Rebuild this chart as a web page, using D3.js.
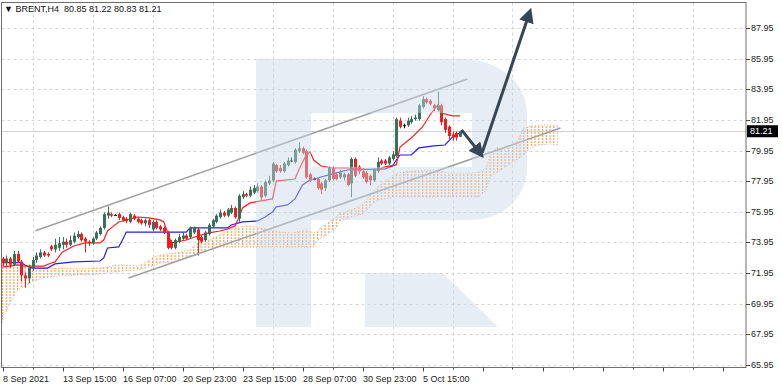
<!DOCTYPE html>
<html>
<head>
<meta charset="utf-8">
<script src="https://cdn.jsdelivr.net/npm/d3@7"></script>
<style>
  html, body { margin: 0; padding: 0; background: #fff; }
  svg { display: block; font-family: "Liberation Sans", Arial, sans-serif; }
</style>
</head>
<body>
<svg id="board" width="782" height="389"></svg>
<script>
// BRENT H4 candles (price units)
const opens  = [72.9,72.6,72.9,72.5,73.2,72.7,71.8,71.6,72.3,72.8,73.0,73.3,73.2,73.7,73.5,73.6,73.8,74.0,73.8,74.0,
                74.3,74.5,74.2,74.0,73.9,74.2,74.5,74.9,75.7,75.8,75.75,75.8,75.6,75.5,75.3,75.7,75.5,75.4,75.2,75.4,
                74.8,75.3,75.0,74.9,74.6,74.0,73.6,74.0,74.2,74.4,74.3,74.6,74.8,74.3,74.1,74.5,75.0,75.3,75.6,75.9,
                75.7,75.9,76.2,75.5,76.9,77.1,77.0,77.2,77.3,77.6,77.0,77.8,78.0,79.0,78.8,78.6,79.0,79.3,79.2,79.9,
                80.1,79.9,78.4,78.1,78.1,77.8,77.5,78.0,78.8,78.4,78.2,78.2,78.4,77.8,79.4,78.9,78.6,78.5,78.3,78.0,
                78.6,79.3,79.3,79.1,79.4,79.6,81.9,81.6,81.6,81.8,82.0,82.0,82.8,83.3,83.2,82.9,82.6,82.9,82.0,81.5,
                81.0,81.1,80.85];
const highs  = [73.0,73.1,73.0,73.4,73.4,72.8,72.0,72.5,73.0,73.3,73.5,73.4,73.3,73.8,74.2,74.3,74.3,74.2,74.4,74.6,
                74.7,74.6,74.3,74.1,74.3,74.7,75.0,75.9,76.3,75.9,75.8,75.9,75.7,75.6,75.9,75.8,75.6,75.5,75.5,75.5,
                75.4,75.4,75.1,75.0,74.7,74.1,74.2,74.5,74.6,74.5,75.0,75.0,74.9,74.4,74.7,75.2,75.5,75.8,76.1,76.0,
                76.2,76.4,76.3,77.1,77.3,77.2,77.6,77.7,77.8,77.7,78.0,78.3,79.2,79.1,79.0,79.2,79.5,79.5,80.1,80.5,
                80.2,80.0,78.5,78.2,78.2,77.9,78.1,78.9,78.9,78.5,78.7,78.5,78.5,79.5,79.5,79.0,78.8,78.6,78.4,78.8,
                79.5,79.4,79.4,79.6,79.9,82.1,82.1,81.7,82.1,82.2,82.3,83.0,83.5,83.4,83.3,83.0,83.8,83.0,82.1,81.6,
                81.2,81.2,81.22];
const lows   = [72.4,72.4,72.3,72.4,72.6,71.4,71.0,71.3,72.1,72.6,72.9,73.0,73.0,73.4,73.3,73.4,73.5,73.6,73.7,73.9,
                74.2,74.0,73.3,73.7,73.8,74.1,74.4,74.8,75.5,75.6,75.7,75.4,75.3,75.2,75.2,75.4,75.2,75.1,75.0,74.9,
                74.7,74.8,74.7,74.5,73.5,73.5,73.5,73.9,74.1,74.1,74.2,74.5,73.1,73.9,74.0,74.4,74.9,75.2,75.5,75.6,
                75.6,75.8,75.5,75.3,76.8,76.9,76.9,77.1,77.2,76.7,76.9,77.7,77.9,78.5,78.5,78.5,78.9,79.2,79.1,79.8,
                79.7,78.1,77.9,78.0,77.4,77.1,77.3,77.9,78.0,78.0,78.1,78.0,77.6,76.9,78.2,78.4,78.1,77.8,77.7,77.9,
                78.5,79.0,79.0,79.0,79.3,79.5,81.4,81.4,81.5,81.7,81.9,81.9,82.7,83.0,82.9,82.5,82.5,81.6,81.1,80.7,
                80.6,80.6,80.83];
const closes = [72.6,72.9,72.5,73.2,72.7,71.8,71.6,72.3,72.8,73.1,73.3,73.1,73.1,73.5,73.8,73.9,74.0,73.8,74.1,74.4,
                74.5,74.1,74.0,73.9,74.2,74.6,74.9,75.8,75.9,75.7,75.75,75.55,75.4,75.35,75.8,75.5,75.3,75.2,75.4,75.1,
                75.3,74.9,74.8,74.6,73.6,73.6,74.1,74.3,74.4,74.2,74.9,74.9,74.1,74.0,74.6,75.1,75.4,75.7,75.9,75.7,
                76.1,76.2,75.6,77.0,77.1,77.0,77.4,77.5,77.6,76.9,77.9,78.0,79.1,78.6,78.6,79.1,79.3,79.3,80.0,80.1,
                79.8,78.2,78.0,78.1,77.5,77.4,78.0,78.8,78.1,78.1,78.5,78.4,77.7,79.4,78.3,78.6,78.2,77.9,78.0,78.7,
                79.2,79.1,79.1,79.5,79.7,82.0,81.5,81.6,81.9,82.0,82.1,82.9,83.3,83.1,83.0,82.7,82.9,81.8,81.3,80.9,
                80.8,80.8,81.21];

// Ichimoku lines, [bar, price]
const tenkan = [[0,72.35],[2,72.41],[4,72.48],[6,72.41],[11,72.41],[13,72.61],[14,72.68],[16,73.33],[19,73.72],
                [22,73.92],[26,73.92],[27,74.11],[28,74.70],[29,74.90],[31,75.29],[34,75.48],[36,75.61],[39,75.55],
                [42,75.42],[43,75.29],[44,74.63],[45,73.92],[49,74.11],[52,74.37],[55,74.57],[58,74.70],[60,74.83],
                [62,75.03],[63,75.55],[64,76.20],[66,76.53],[72,76.79],[73,77.96],[78,78.09],[79,78.68],[81,79.66],
                [82,79.86],[83,79.33],[85,78.94],[88,78.81],[92,78.81],[100,78.68],[102,78.88],[105,79.01],[106,80.18],
                [109,80.77],[112,81.49],[114,82.27],[116,82.92],[117,82.40],[120,82.21],[122,82.21]];
const kijun  = [[0,72.63],[5,72.63],[6,72.48],[8,72.28],[12,72.28],[14,72.55],[19,72.68],[26,72.74],[27,72.94],
                [28,73.59],[31,73.66],[32,74.11],[33,74.63],[49,74.63],[50,74.90],[60,74.90],[61,75.09],[64,75.29],
                [68,75.35],[70,75.61],[72,75.94],[73,76.27],[76,76.40],[78,76.79],[79,77.25],[80,77.70],[82,78.03],
                [84,78.16],[89,78.49],[92,78.68],[102,78.75],[104,78.94],[105,79.33],[106,79.66],[109,79.66],
                [111,80.12],[115,80.25],[118,80.31],[120,80.84],[122,81.10]];

// cloud (shifted 26 bars ahead)
const cloudBars = [-1,0,2,4,8,11,15,20,26,28,30,32,36,38,40,42,46,50,52,55,57,58,60,63,66,70,74,77,81,83,84,85,87,
                   89,90,93,96,98,100,105,107,110,115,119,125,127,129,130,132,133,135,137,139,141,143,146,148];
const spanA = [72.61,72.55,72.48,72.48,72.28,72.28,72.28,72.22,72.28,72.35,72.48,72.48,72.42,72.61,72.94,73.13,73.26,
               73.46,73.92,74.11,74.31,74.44,74.76,74.96,75.03,74.83,74.63,74.57,74.76,74.57,74.63,74.96,75.29,75.61,
               75.87,76.07,76.40,77.05,77.57,78.49,78.55,78.62,78.68,78.49,78.49,78.55,78.81,79.66,80.18,79.99,80.12,
               80.44,81.42,81.55,81.62,81.62,81.55];
const spanB = [66.93,68.89,69.99,70.85,71.37,71.63,71.76,71.83,71.89,71.96,72.02,72.09,72.15,72.28,72.42,72.61,72.68,
               73.07,73.26,73.46,73.59,73.65,73.65,73.65,73.65,73.65,73.65,73.65,73.65,73.65,74.11,74.24,74.50,74.89,
               75.35,75.61,75.81,76.27,76.72,76.92,76.92,76.92,76.92,76.92,76.92,76.92,77.38,78.22,78.55,78.68,79.01,
               79.33,79.66,80.18,80.31,80.38,80.31];

// channel + arrows, [bar, price]
const upperChannel = [[8.8,74.72],[124,84.62]];
const lowerChannel = [[33.6,71.63],[148.8,81.42]];
const arrowDown = [[122.4,81.3],[127.6,79.7]];
const arrowUp   = [[127.9,79.8],[140.6,89.0]];

const priceTicks = [65.95,67.95,69.95,71.95,73.95,75.95,77.95,79.95,81.95,83.95,85.95,87.95];
const timeLabels = ["8 Sep 2021","13 Sep 15:00","16 Sep 07:00","20 Sep 23:00","23 Sep 15:00","28 Sep 07:00","30 Sep 23:00","5 Oct 15:00"];
const lastPrice = 81.21;
const header = "\u25BC BRENT,H4  80.85 81.22 80.83 81.21";

const board = d3.select("#board");
const plotL = 1.5, plotR = 746, plotT = 2.5, plotB = 367.5;

const x = d3.scaleLinear().domain([0, 122]).range([2.5, 460]);
const y = d3.scaleLinear().domain([65.95, 87.95]).range([365, 28]);
const barStep = x(1) - x(0);

const defs = board.append("defs");
defs.append("clipPath").attr("id", "plot")
    .append("rect").attr("x", plotL).attr("y", plotT).attr("width", plotR - plotL).attr("height", plotB - plotT);

const pat = defs.append("pattern").attr("id", "cloudPat")
    .attr("patternUnits", "userSpaceOnUse")
    .attr("x", x(0) - 0.5).attr("y", 0)
    .attr("width", barStep).attr("height", 3);
pat.append("rect").attr("x", 0).attr("y", 0).attr("width", 1.2).attr("height", 2).attr("fill", "#f5a05a");

defs.append("marker").attr("id", "head")
    .attr("viewBox", "0 0 10 10").attr("refX", 7).attr("refY", 5)
    .attr("markerUnits", "userSpaceOnUse").attr("markerWidth", 15).attr("markerHeight", 15)
    .attr("orient", "auto")
    .append("path").attr("d", "M0,0 L10,5 L0,10 Z").attr("fill", "#374656");

const plot = board.append("g").attr("clip-path", "url(#plot)");

// grid
const gridBars = d3.range(8, 400, 16);
plot.selectAll("line.vgrid").data(gridBars).join("line")
    .attr("class", "vgrid")
    .attr("x1", d => Math.round(x(d)) + 0.5).attr("x2", d => Math.round(x(d)) + 0.5)
    .attr("y1", plotT).attr("y2", plotB)
    .attr("stroke", "#d6d6d6").attr("stroke-dasharray", "3,3");
plot.selectAll("line.hgrid").data(priceTicks).join("line")
    .attr("class", "hgrid")
    .attr("x1", plotL).attr("x2", plotR)
    .attr("y1", d => Math.round(y(d)) + 0.5).attr("y2", d => Math.round(y(d)) + 0.5)
    .attr("stroke", "#d6d6d6").attr("stroke-dasharray", "3,3");

// last price line
plot.append("line")
    .attr("x1", plotL).attr("x2", plotR)
    .attr("y1", Math.round(y(lastPrice)) + 0.5).attr("y2", Math.round(y(lastPrice)) + 0.5)
    .attr("stroke", "#d0d0d0");

// cloud
const cloud = cloudBars.map((b, i) => ({ b: b, a: spanA[i], s: spanB[i] }));
plot.append("path").datum(cloud)
    .attr("d", d3.area().x(d => x(d.b)).y0(d => y(d.s)).y1(d => y(d.a)))
    .attr("fill", "url(#cloudPat)");
plot.append("path").datum(cloud)
    .attr("d", d3.line().x(d => x(d.b)).y(d => y(d.a)))
    .attr("fill", "none").attr("stroke", "#f4a460").attr("stroke-width", 1).attr("stroke-dasharray", "1,2");
plot.append("path").datum(cloud)
    .attr("d", d3.line().x(d => x(d.b)).y(d => y(d.s)))
    .attr("fill", "none").attr("stroke", "#c9a8d8").attr("stroke-width", 1).attr("stroke-dasharray", "1,2");

// ichimoku lines
const lineGen = d3.line().x(d => x(d[0])).y(d => y(d[1]));
plot.append("path").datum(kijun).attr("d", lineGen)
    .attr("fill", "none").attr("stroke", "#1e1eff").attr("stroke-width", 1.2);
plot.append("path").datum(tenkan).attr("d", lineGen)
    .attr("fill", "none").attr("stroke", "#ff1e1e").attr("stroke-width", 1.2);

// candles
const candles = closes.map((c, i) => ({ i: i, o: opens[i], h: highs[i], l: lows[i], c: c }));
const colorOf = d => d.c > d.o ? "#3a6f58" : (d.c < d.o ? "#f21c1c" : "#111");
plot.selectAll("line.wick").data(candles).join("line")
    .attr("class", "wick")
    .attr("x1", d => Math.round(x(d.i)) + 0.5).attr("x2", d => Math.round(x(d.i)) + 0.5)
    .attr("y1", d => y(d.h)).attr("y2", d => y(d.l))
    .attr("stroke", colorOf).attr("stroke-width", 1);
plot.selectAll("rect.body").data(candles).join("rect")
    .attr("class", "body")
    .attr("x", d => Math.round(x(d.i)) - 1)
    .attr("y", d => y(Math.max(d.o, d.c)))
    .attr("width", 3)
    .attr("height", d => Math.max(1, Math.abs(y(d.o) - y(d.c))))
    .attr("fill", colorOf);

// channel
[upperChannel, lowerChannel].forEach(ch => {
    plot.append("path").datum(ch).attr("d", lineGen)
        .attr("fill", "none").attr("stroke", "#a0a0a0").attr("stroke-width", 1.6);
});

// watermark R (drawn over, translucent)
plot.append("path")
    .attr("d", "M256,59 H462 C500,59 527,84 527,114 V168 C527,198 502,220 470,220 H311 V327 H256 Z " +
               "M311,113 V167 H472 V113 Z " +
               "M365,273 H443 L498,327 H365 Z")
    .attr("fill-rule", "evenodd")
    .attr("fill", "#c9d6e6").attr("opacity", 0.45);

// arrows
[arrowDown, arrowUp].forEach(a => {
    plot.append("path").datum(a).attr("d", lineGen)
        .attr("fill", "none").attr("stroke", "#374656").attr("stroke-width", 3)
        .attr("marker-end", "url(#head)");
});

// frame
board.append("rect")
    .attr("x", plotL).attr("y", plotT).attr("width", plotR - plotL).attr("height", plotB - plotT)
    .attr("fill", "none").attr("stroke", "#6e6e6e").attr("stroke-width", 1);

// right price axis
const yAxis = board.append("g");
yAxis.selectAll("line").data(priceTicks).join("line")
    .attr("x1", plotR).attr("x2", plotR + 4)
    .attr("y1", d => Math.round(y(d)) + 0.5).attr("y2", d => Math.round(y(d)) + 0.5)
    .attr("stroke", "#444");
yAxis.selectAll("text").data(priceTicks).join("text")
    .attr("x", plotR + 5).attr("y", d => y(d))
    .attr("dominant-baseline", "central")
    .attr("font-size", "9px").attr("fill", "#222")
    .text(d => d.toFixed(2));

// last price tag
const tagY = y(lastPrice);
board.append("rect").attr("x", plotR + 1).attr("y", tagY - 6).attr("width", 31).attr("height", 12).attr("fill", "#000");
board.append("text").attr("x", plotR + 4).attr("y", tagY)
    .attr("dominant-baseline", "central").attr("font-size", "9px").attr("fill", "#fff")
    .text(lastPrice.toFixed(2));

// time axis
const minorBars = d3.range(0, 200, 8).filter(b => x(b) < plotR);
board.selectAll("line.xtick").data(minorBars).join("line")
    .attr("class", "xtick")
    .attr("x1", d => Math.round(x(d)) + 0.5).attr("x2", d => Math.round(x(d)) + 0.5)
    .attr("y1", plotB).attr("y2", d => d % 16 === 0 ? plotB + 4 : plotB + 2)
    .attr("stroke", "#444");
board.selectAll("text.xlab").data(timeLabels).join("text")
    .attr("class", "xlab")
    .attr("x", (d, i) => Math.round(x(i * 16)))
    .attr("y", 382)
    .attr("font-size", "9px").attr("fill", "#222")
    .text(d => d);

// header
board.append("text").attr("x", 4).attr("y", 12)
    .attr("font-size", "9px").attr("fill", "#111")
    .attr("xml:space", "preserve")
    .text(header);
</script>
</body>
</html>
